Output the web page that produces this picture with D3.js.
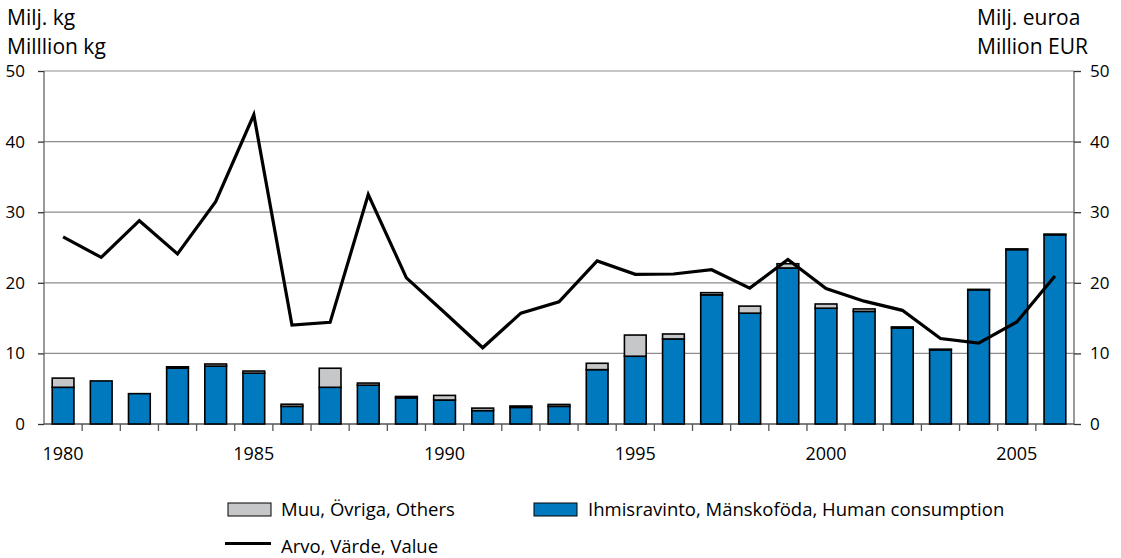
<!DOCTYPE html>
<html>
<head>
<meta charset="utf-8">
<script src="https://cdn.jsdelivr.net/npm/d3@7"></script>
<style>
  body { margin: 0; background: #fff; }
  text { font-family: "Open Sans", sans-serif; fill: #000; }
</style>
</head>
<body>
<svg id="chart" width="1121" height="558"></svg>
<script>
const years = d3.range(1980, 2007)
// million kg
const human = [5.2, 6.1, 4.3, 7.9, 8.2, 7.2, 2.5, 5.2, 5.5, 3.7,
    3.4, 1.9, 2.35, 2.5, 7.7, 9.6, 12.05, 18.3, 15.7, 22.1,
    16.4, 15.95, 13.6, 10.5, 19.0, 24.7, 26.8]
const others = [1.3, 0, 0, 0.2, 0.3, 0.3, 0.3, 2.7, 0.3, 0.2,
    0.65, 0.35, 0.2, 0.27, 0.9, 3.0, 0.7, 0.3, 1.0, 0.6,
    0.6, 0.35, 0.15, 0.1, 0.07, 0.1, 0.1]
// million EUR
const value = [26.5, 23.6, 28.8, 24.1, 31.5, 43.8, 14.0, 14.4, 32.5, 20.7,
    15.8, 10.8, 15.7, 17.3, 23.1, 21.2, 21.25, 21.85, 19.25, 23.3,
    19.2, 17.4, 16.1, 12.1, 11.45, 14.45, 20.95]
const yTicks = [0, 10, 20, 30, 40, 50]
const xLabels = [1980, 1985, 1990, 1995, 2000, 2005]

const BLUE = "#0079bf", GREY = "#c6c7c9"
const M = {left: 44, right: 1074, top: 71, bottom: 424}

let svg = d3.select("#chart")

let x = d3.scaleBand().domain(years).range([M.left, M.right]).paddingInner(0.43).paddingOuter(0.215)
let xb = d3.scaleBand().domain(years).range([M.left, M.right])
let y = d3.scaleLinear().domain([0, 50]).range([M.bottom, M.top])

// gridlines
svg.append("g").selectAll("line").data(yTicks.slice(1)).join("line")
    .attr("x1", M.left).attr("x2", M.right)
    .attr("y1", d => y(d)).attr("y2", d => y(d))
    .attr("stroke", "#8c8c8c").attr("stroke-width", 1.2)

// axes
let left = svg.append("g").attr("transform", `translate(${M.left},0)`)
    .call(d3.axisLeft(y).tickValues(yTicks).tickSize(6).tickPadding(13))
let right = svg.append("g").attr("transform", `translate(${M.right},0)`)
    .call(d3.axisRight(y).tickValues(yTicks).tickSize(7).tickPadding(9))
let bottom = svg.append("g").attr("transform", `translate(0,${M.bottom})`)
    .call(d3.axisBottom(xb).tickSize(0).tickPadding(23)
        .tickFormat(d => xLabels.includes(d) ? d : ""))
// x ticks sit between the bars
bottom.selectAll(".sep").data(years.slice(1)).join("line")
    .attr("class", "sep")
    .attr("x1", d => xb(d)).attr("x2", d => xb(d))
    .attr("y1", 0).attr("y2", 7)
    .attr("stroke", "#555").attr("stroke-width", 1.3)

for (let g of [left, right, bottom]) {
    g.select(".domain").attr("stroke", "#777").attr("stroke-width", 1.5)
    g.selectAll(".tick line").attr("stroke", "#333").attr("stroke-width", 1.3)
    g.selectAll("text").style("font-size", "17px").style("font-family", "Open Sans").attr("fill", "#000")
}
bottom.selectAll("text").style("font-size", "18px")
bottom.select(".domain").attr("stroke", "#555").attr("d", `M${M.left},0H${M.right}`)
left.select(".domain").attr("d", `M0,${M.bottom}V${M.top}`)
right.select(".domain").attr("d", `M0,${M.bottom}V${M.top}`)

// bars
let bars = svg.append("g")
bars.selectAll("rect.human").data(years).join("rect")
    .attr("class", "human")
    .attr("x", d => x(d)).attr("width", x.bandwidth())
    .attr("y", (d, i) => y(human[i]))
    .attr("height", (d, i) => y(0) - y(human[i]))
    .attr("fill", BLUE).attr("stroke", "#000").attr("stroke-width", 1.6)
bars.selectAll("rect.others").data(years).join("rect")
    .attr("class", "others")
    .attr("x", d => x(d)).attr("width", x.bandwidth())
    .attr("y", (d, i) => y(human[i] + others[i]))
    .attr("height", (d, i) => y(human[i]) - y(human[i] + others[i]))
    .attr("fill", GREY).attr("stroke", "#000").attr("stroke-width", 1.6)

// value line
svg.append("path")
    .datum(value)
    .attr("fill", "none").attr("stroke", "#000").attr("stroke-width", 3.2)
    .attr("stroke-linejoin", "miter")
    .attr("d", d3.line().x((d, i) => xb(years[i]) + xb.bandwidth() / 2).y(d => y(d)))

// axis titles
let titles = svg.append("g").style("font-size", "21px")
titles.append("text").attr("x", 7).attr("y", 25).text("Milj. kg")
titles.append("text").attr("x", 7).attr("y", 54).text("Milllion kg")
titles.append("text").attr("x", 977).attr("y", 25).text("Milj. euroa")
titles.append("text").attr("x", 977).attr("y", 54).text("Million EUR")

// legend
let legend = svg.append("g").style("font-size", "18.5px")
legend.append("rect").attr("x", 228).attr("y", 503).attr("width", 43).attr("height", 13)
    .attr("fill", GREY).attr("stroke", "#000").attr("stroke-width", 1)
legend.append("text").attr("x", 281).attr("y", 516).text("Muu, Övriga, Others")
legend.append("rect").attr("x", 534).attr("y", 503).attr("width", 43).attr("height", 13)
    .attr("fill", BLUE).attr("stroke", "#000").attr("stroke-width", 1)
legend.append("text").attr("x", 588).attr("y", 516).text("Ihmisravinto, Mänskoföda, Human consumption")
legend.append("line").attr("x1", 225).attr("x2", 271).attr("y1", 543.5).attr("y2", 543.5)
    .attr("stroke", "#000").attr("stroke-width", 3.2)
legend.append("text").attr("x", 281).attr("y", 553).text("Arvo, Värde, Value")
</script>
</body>
</html>
